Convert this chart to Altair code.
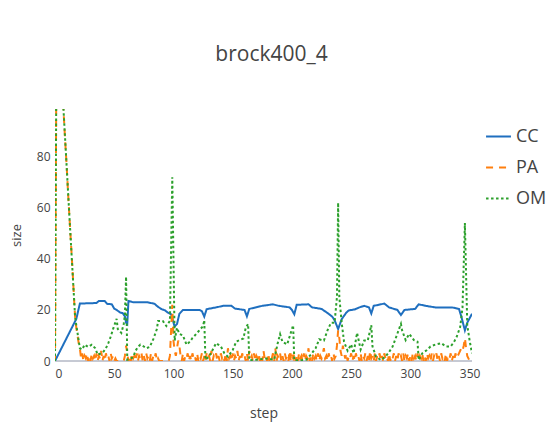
import altair as alt
import pandas as pd

TITLE = "brock400_4"
SERIES = ["CC", "PA", "OM"]
COLORS = ["#1f6fbf", "#ff7f0e", "#2ca02c"]
DASHES = [[1, 0], [7, 6], [2.5, 2.5]]

CC_STEPS = [0, 18, 21, 35, 37, 42, 44, 48, 50, 52, 55, 57, 59, 60, 61, 62, 66, 78, 84, 87,
            90, 93, 95, 98, 101, 103, 105, 108, 122, 124, 126, 128, 136, 142, 149, 152, 160, 162, 164, 175,
            184, 189, 198, 200, 202, 204, 214, 217, 225, 230, 234, 236, 239, 242, 246, 248, 253, 257, 261, 265,
            267, 269, 275, 278, 282, 289, 292, 295, 304, 307, 313, 321, 335, 341, 343, 346, 348, 352]
CC_VALUES = [0, 16.5, 22.5, 22.7, 23.5, 23.5, 22.4, 22.2, 20.5, 20, 19, 18.8, 17.5, 15, 14.5, 23.5, 23, 23, 22.4, 21.2,
             20.3, 19.8, 19, 18.3, 13.5, 14.5, 18.5, 20, 20, 19.5, 17.4, 20.3, 21, 21.6, 21.6, 20.5, 20, 17.5, 20.4, 21.6,
             22.2, 21.6, 21, 20, 18.3, 22, 22.2, 21, 20.4, 18.8, 17.4, 16, 12.5, 16.4, 19, 19.8, 20.2, 21, 21.6, 21,
             18.6, 21.6, 22.2, 22.5, 21, 20, 18, 20, 20.4, 22.2, 21.6, 21, 21, 20.4, 17.4, 12, 15, 18.5]

OM_STEPS = [0, 1, 7, 12, 17, 21, 23, 25, 28, 31, 34, 36, 39, 41, 43, 45, 47, 49, 52, 53,
            56, 58, 59, 60, 61, 64, 66, 68, 70, 72, 74, 77, 80, 83, 86, 87, 91, 94, 97, 99,
            101, 103, 105, 108, 111, 114, 116, 120, 125, 126, 127, 130, 133, 136, 140, 143, 146, 150, 153, 156,
            159, 161, 163, 164, 170, 178, 185, 188, 190, 192, 196, 199, 201, 202, 208, 212, 216, 220, 223, 227,
            230, 233, 236, 238, 239, 240, 242, 244, 247, 250, 252, 255, 258, 261, 264, 267, 268, 271, 275, 279,
            282, 285, 288, 291, 292, 293, 296, 299, 303, 306, 307, 310, 314, 317, 321, 326, 330, 334, 337, 339,
            342, 344, 346, 348, 350, 352]
OM_VALUES = [0, 100, 100, 58, 17, 5, 4.5, 6.4, 5.5, 6.4, 5, 2.5, 3, 3.7, 5, 7, 9.5, 12.5, 16.5, 12.5,
             11, 14.5, 18, 33, 0.5, 1, 1.5, 4, 5.5, 6.4, 6, 5, 5.5, 8.6, 12.5, 15.7, 15.7, 13.7, 15.7, 72,
             8, 13, 10.6, 10, 6.4, 7.6, 9, 11, 13.7, 16, 0.5, 1.7, 4.3, 7, 5.7, 3, 1.7, 4.3, 7.6, 8.2,
             8.8, 13, 14.5, 0.3, 0.5, 1, 0.5, 7, 10.5, 7.5, 6.5, 11, 14, 0.3, 0.3, 0.5, 2.5, 5, 8.5, 8,
             12, 15, 15, 25, 62, 25, 15, 7.5, 4, 6.5, 3, 11, 4.5, 8, 8, 14, 5.7, 1.7, 0.4, 1.7,
             3.5, 5.7, 9.4, 13.3, 14.5, 12, 8.2, 10.6, 8.2, 7.6, 0.4, 3, 4.3, 5.7, 6.4, 7, 5.7, 5.7, 7.6, 9.4,
             13.3, 21, 54, 14, 8, 3]

PA_VALUES = [
    0, 100, 100, 100, 100, 100, 100, 100, 91, 83,
    75, 66, 58, 50, 42, 34, 25, 17, 13, 10,
    7, 5, 1, 3, 0, 2, 1, 3, 0, 2,
    0, 3, 1, 2, 0, 3, 0, 2, 1, 4,
    0, 2, 0, 3, 1, 2, 0, 3, 1, 2,
    0, 1, 0, 0, 0, 0, 0, 0, 0, 2,
    6, 3, 0, 2, 0, 3, 1, 2, 0, 3,
    0, 2, 1, 3, 0, 2, 0, 3, 1, 2,
    0, 3, 0, 2, 1, 3, 0, 1, 0, 0,
    0, 0, 0, 0, 0, 0, 0, 2, 12, 22,
    8, 4, 2, 5, 8, 6, 2, 0, 3, 0,
    2, 1, 3, 0, 2, 0, 3, 1, 2, 0,
    3, 0, 2, 1, 3, 0, 2, 0, 3, 1,
    2, 0, 4, 0, 2, 1, 3, 0, 2, 0,
    3, 1, 2, 0, 3, 0, 5, 1, 2, 0,
    3, 0, 2, 1, 4, 0, 2, 0, 3, 1,
    2, 0, 3, 0, 4, 1, 2, 0, 3, 0,
    2, 1, 3, 0, 2, 0, 4, 1, 2, 0,
    3, 0, 2, 1, 3, 0, 5, 0, 2, 1,
    3, 0, 2, 0, 3, 1, 2, 0, 4, 0,
    2, 1, 3, 0, 2, 0, 3, 1, 2, 0,
    3, 0, 2, 1, 5, 0, 2, 0, 3, 1,
    2, 0, 3, 0, 2, 1, 3, 5, 1, 2,
    0, 3, 1, 2, 0, 3, 1, 2, 6, 12,
    9, 4, 2, 6, 3, 1, 3, 0, 2, 1,
    3, 0, 2, 0, 3, 1, 2, 0, 3, 0,
    2, 1, 3, 0, 2, 0, 4, 1, 2, 0,
    3, 0, 2, 1, 3, 0, 2, 0, 3, 1,
    2, 0, 3, 0, 2, 1, 3, 0, 2, 0,
    3, 1, 2, 0, 3, 0, 2, 1, 3, 0,
    2, 0, 3, 1, 2, 0, 3, 0, 2, 1,
    3, 0, 2, 0, 3, 1, 2, 0, 3, 0,
    2, 1, 3, 0, 2, 0, 3, 1, 2, 0,
    3, 0, 2, 1, 3, 0, 2, 0, 3, 1,
    2, 3, 4, 5, 4, 6, 9, 5, 2, 1,
    0, 0, 0,
]
PA_STEPS = list(range(len(PA_VALUES)))

X_TICKS = [0, 50, 100, 150, 200, 250, 300, 350]
Y_TICKS = [0, 20, 40, 60, 80]
X_MAX = 352
Y_MAX = 98.7
ZERO = [0]

rows = []
for s, v in zip(CC_STEPS, CC_VALUES):
    rows.append({"step": s, "size": v, "series": "CC"})
for s, v in zip(PA_STEPS, PA_VALUES):
    rows.append({"step": s, "size": v, "series": "PA"})
for s, v in zip(OM_STEPS, OM_VALUES):
    rows.append({"step": s, "size": v, "series": "OM"})
df = pd.DataFrame(rows)

FONT = "Open Sans"
TXT = "#444444"

x_enc = alt.X("step:Q", scale=alt.Scale(domain=[0, X_MAX], nice=False, zero=False),
              axis=alt.Axis(values=X_TICKS, title="step", grid=False, ticks=False, domain=False,
                            labelFontSize=12, labelColor=TXT, labelFont=FONT, labelPadding=7,
                            titleFontSize=14, titleFont=FONT, titleColor=TXT, titleFontWeight="normal",
                            titlePadding=27))
y_enc = alt.Y("size:Q", scale=alt.Scale(domain=[0, Y_MAX], nice=False),
              axis=alt.Axis(values=Y_TICKS, title="size", grid=False, ticks=False, domain=False,
                            labelFontSize=12, labelColor=TXT, labelFont=FONT, labelPadding=5,
                            titleFontSize=13, titleFont=FONT, titleColor=TXT, titleFontWeight="normal",
                            titlePadding=13))
LEGEND = dict(title=None, orient="none", legendX=430, legendY=14,
              symbolType="stroke", symbolSize=620, symbolStrokeWidth=2,
              labelFontSize=18, labelFont=FONT, labelColor=TXT,
              rowPadding=8, labelOffset=4)
color_enc = alt.Color("series:N", scale=alt.Scale(domain=SERIES, range=COLORS),
                      legend=alt.Legend(**LEGEND))
dash_enc = alt.StrokeDash("series:N", scale=alt.Scale(domain=SERIES, range=DASHES),
                          legend=alt.Legend(**LEGEND))

zero_rule = alt.Chart(pd.DataFrame({"size": ZERO})).mark_rule(color="#8d94a8", strokeWidth=1).encode(
    y=alt.Y("size:Q", scale=alt.Scale(domain=[0, Y_MAX], nice=False)))

layers = [zero_rule]
for name in SERIES:
    layers.append(
        alt.Chart(df).transform_filter(alt.datum.series == name)
        .mark_line(strokeWidth=2, clip=True)
        .encode(x=x_enc, y=y_enc, color=color_enc, strokeDash=dash_enc)
    )

chart = alt.layer(*layers).properties(
    width=417, height=252,
    title=alt.TitleParams(TITLE, fontSize=21, font=FONT, color=TXT, fontWeight="normal",
                          anchor="middle", offset=44, dx=8),
    padding={"left": 55, "top": 109, "right": 76, "bottom": 64},
    autosize=alt.AutoSizeParams(type="none"),
    background="white",
).configure_view(stroke=None)

chart.save("out.html", embed_options={"renderer": "svg", "actions": False})
